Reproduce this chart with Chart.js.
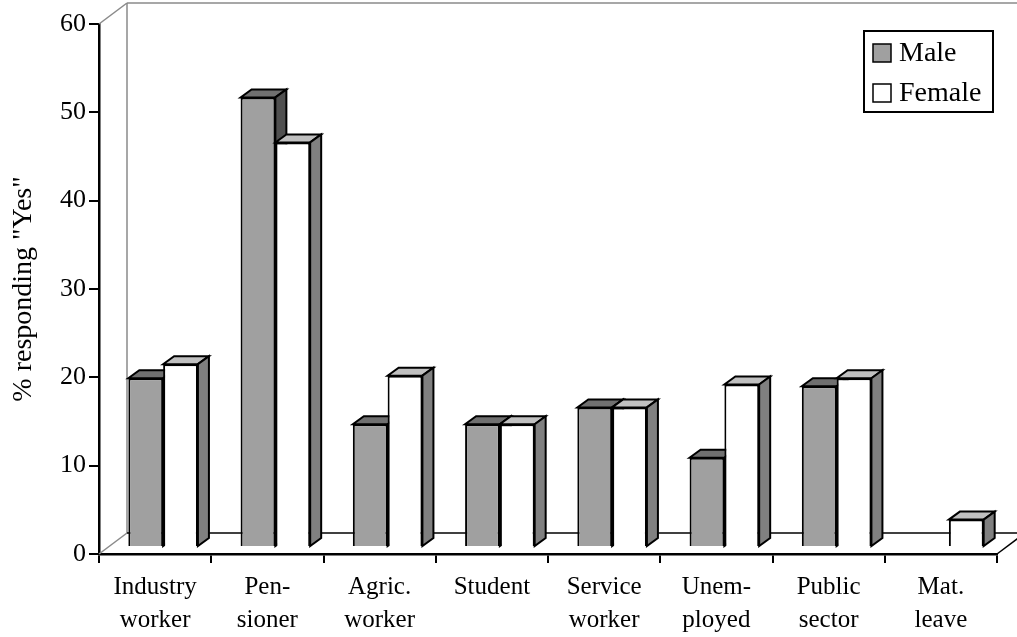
<!DOCTYPE html>
<html>
<head>
<meta charset="utf-8">
<script src="https://cdn.jsdelivr.net/npm/chart.js@4/dist/chart.umd.min.js"></script>
<style>
  html, body { margin: 0; padding: 0; background: #fff; }
</style>
</head>
<body>
<canvas id="chart" width="1017" height="637"></canvas>
<script>
// data
const categories = [
  ["Industry", "worker"], ["Pen-", "sioner"], ["Agric.", "worker"], ["Student"],
  ["Service", "worker"], ["Unem-", "ployed"], ["Public", "sector"], ["Mat.", "leave"]
];
const maleValues = [19.1, 50.9, 13.9, 13.9, 15.8, 10.1, 18.2, null];
const femaleValues = [20.7, 45.8, 19.4, 13.9, 15.8, 18.4, 19.1, 3.1];
const seriesNames = ["Male", "Female"];
const yMin = 0, yMax = 60, yStep = 10;

const serif = "'Liberation Serif', 'Times New Roman', serif";

// fake 3d offsets
const wallDepth = { dx: 28, dy: -21 };
const barShift = { dx: 8, dy: -7 };
const barDepth = { dx: 11, dy: -8 };

function poly(ctx, pts, fill) {
  ctx.beginPath();
  ctx.moveTo(pts[0][0], pts[0][1]);
  for (let i = 1; i < pts.length; i++) ctx.lineTo(pts[i][0], pts[i][1]);
  ctx.closePath();
  ctx.fillStyle = fill;
  ctx.fill();
  ctx.lineWidth = 2;
  ctx.strokeStyle = "#000";
  ctx.stroke();
}

function line(ctx, x1, y1, x2, y2, color, w) {
  ctx.beginPath();
  ctx.moveTo(x1, y1);
  ctx.lineTo(x2, y2);
  ctx.strokeStyle = color;
  ctx.lineWidth = w;
  ctx.stroke();
}

// back wall + floor
const wallPlugin = {
  id: "wall",
  beforeDatasetsDraw(chart) {
    const ctx = chart.ctx;
    const y = chart.scales.y, a = chart.chartArea;
    const top = y.getPixelForValue(yMax), bottom = y.getPixelForValue(yMin);
    const bx = a.left + wallDepth.dx;
    ctx.save();
    line(ctx, a.left, top, bx, top + wallDepth.dy, "#8a8a8a", 1.5);
    line(ctx, bx, top + wallDepth.dy, chart.width + 5, top + wallDepth.dy, "#8a8a8a", 1.5);
    line(ctx, bx, top + wallDepth.dy, bx, bottom + wallDepth.dy, "#8a8a8a", 1.5);
    line(ctx, a.left, bottom, bx, bottom + wallDepth.dy, "#8a8a8a", 1.5);
    line(ctx, bx, bottom + wallDepth.dy, chart.width + 5, bottom + wallDepth.dy, "#000", 1.5);
    line(ctx, a.right, bottom, a.right + wallDepth.dx, bottom + wallDepth.dy, "#000", 1.5);
    ctx.restore();
  }
};

// bars drawn by hand order (male then female) so the faces overlap right,
// each one gets a top and a side face
const facesPlugin = {
  id: "faces",
  beforeDatasetDraw() {
    return false;
  },
  afterDatasetsDraw(chart) {
    const ctx = chart.ctx;
    ctx.save();
    ctx.translate(barShift.dx, barShift.dy);
    chart.data.datasets.forEach((ds, di) => {
      const meta = chart.getDatasetMeta(di);
      meta.data.forEach((bar, i) => {
        if (ds.data[i] == null) return;
        bar.draw(ctx);
        const p = bar.getProps(["x", "y", "base", "width"], true);
        const l = p.x - p.width / 2, r = p.x + p.width / 2;
        poly(ctx, [[l, p.y], [r, p.y], [r + barDepth.dx, p.y + barDepth.dy], [l + barDepth.dx, p.y + barDepth.dy]], ds.topColor);
        poly(ctx, [[r, p.y], [r + barDepth.dx, p.y + barDepth.dy], [r + barDepth.dx, p.base + barDepth.dy], [r, p.base]], ds.sideColor);
      });
    });
    ctx.restore();
  }
};

// boxed legend top right
const legendPlugin = {
  id: "boxLegend",
  afterDraw(chart) {
    const ctx = chart.ctx;
    const x0 = 864, y0 = 31, w = 129, h = 81;
    ctx.save();
    ctx.fillStyle = "#fff";
    ctx.fillRect(x0, y0, w, h);
    ctx.strokeStyle = "#000";
    ctx.lineWidth = 2;
    ctx.strokeRect(x0, y0, w, h);
    ctx.font = "28px " + serif;
    ctx.textBaseline = "middle";
    chart.data.datasets.forEach((ds, i) => {
      const cy = y0 + 22 + i * 40;
      ctx.fillStyle = ds.backgroundColor;
      ctx.fillRect(x0 + 9, cy - 9, 18, 18);
      ctx.lineWidth = 1.5;
      ctx.strokeRect(x0 + 9, cy - 9, 18, 18);
      ctx.fillStyle = "#000";
      ctx.fillText(ds.label, x0 + 35, cy + 1);
    });
    ctx.restore();
  }
};

new Chart(document.getElementById("chart"), {
  type: "bar",
  data: {
    labels: categories,
    datasets: [
      { label: seriesNames[0], data: maleValues, backgroundColor: "#a0a0a0", topColor: "#707070", sideColor: "#505050",
        borderColor: "#000", borderWidth: 2, clip: false },
      { label: seriesNames[1], data: femaleValues, backgroundColor: "#ffffff", topColor: "#c0c0c0", sideColor: "#808080",
        borderColor: "#000", borderWidth: 2, clip: false }
    ]
  },
  options: {
    responsive: false,
    animation: false,
    devicePixelRatio: 1,
    layout: { padding: { top: 24, right: 20, left: 0, bottom: 0 } },
    plugins: { legend: { display: false }, tooltip: { enabled: false } },
    datasets: { bar: { categoryPercentage: 0.62, barPercentage: 1 } },
    scales: {
      x: {
        grid: { drawOnChartArea: false, offset: true, color: "#000", lineWidth: 2, tickLength: 9 },
        border: { color: "#000", width: 2.5 },
        ticks: { color: "#000", font: { family: serif, size: 25, lineHeight: 1.32 }, padding: 8, maxRotation: 0, autoSkip: false },
        afterFit(scale) { scale.height = 83; }
      },
      y: {
        min: yMin, max: yMax,
        grid: { drawOnChartArea: false, color: "#000", lineWidth: 2, tickLength: 10 },
        border: { color: "#000", width: 2.5 },
        ticks: { stepSize: yStep, color: "#000", font: { family: serif, size: 26 }, padding: 3 },
        title: { display: true, text: '% responding "Yes"', color: "#000", font: { family: serif, size: 28 }, padding: { top: 7, bottom: 0 } },
        afterFit(scale) { scale.width = 99; }
      }
    }
  },
  plugins: [wallPlugin, facesPlugin, legendPlugin]
});
</script>
</body>
</html>
